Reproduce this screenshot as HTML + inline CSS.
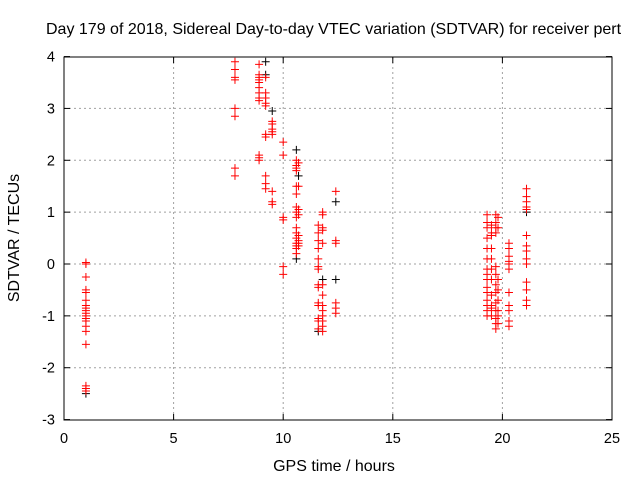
<!DOCTYPE html>
<html><head><meta charset="utf-8"><style>
body{margin:0;background:#fff;}
svg{display:block;font-family:"Liberation Sans",sans-serif;}
</style></head><body>
<svg id="chart" width="640" height="480" xmlns="http://www.w3.org/2000/svg">
<text x="46" y="34" font-size="16">Day 179 of 2018, Sidereal Day-to-day VTEC variation (SDTVAR) for receiver pert</text>
<text x="334" y="471" font-size="16" text-anchor="middle">GPS time / hours</text>
<text transform="translate(19,238) rotate(-90)" font-size="16" text-anchor="middle">SDTVAR / TECUs</text>
<g id="grid"></g><g id="ticks"></g><g id="marks"></g>
<rect x="64" y="57" width="548" height="363" fill="none" stroke="#000" stroke-width="1"/>
</svg>
<script>
const xTicks=[0,5,10,15,20,25];
const yTicks=[-3,-2,-1,0,1,2,3,4];
const redX=[1,7.8,8.9,9.2,9.5,10.0,10.6,10.7,11.6,11.8,12.4,19.3,19.5,19.7,19.8,20.3,21.1];
const redY=[
[0.03,0.0,-0.25,-0.5,-0.55,-0.7,-0.8,-0.85,-0.9,-0.95,-1.0,-1.05,-1.1,-1.2,-1.3,-1.55,-2.35,-2.4,-2.45],
[3.9,3.75,3.6,3.55,3.0,2.85,1.85,1.7],
[3.85,3.65,3.6,3.55,3.5,3.4,3.3,3.2,3.15,2.1,2.05,2.0],
[3.6,3.3,3.2,3.1,3.05,2.5,2.45,1.7,1.55,1.45],
[2.75,2.7,2.6,2.55,2.5,1.4,1.2,1.15],
[2.35,2.1,0.9,0.85,-0.05,-0.2],
[2.0,1.9,1.85,1.8,1.5,1.35,1.1,1.0,0.9,0.7,0.6,0.5,0.4,0.35,0.3,0.2],
[1.95,1.5,1.05,0.95,0.55,0.45,0.4,0.35],
[0.75,0.6,0.45,0.3,0.1,-0.05,-0.1,-0.4,-0.45,-0.75,-0.8,-1.05,-1.1,-1.25],
[1.0,0.95,0.7,0.65,0.4,-0.4,-0.6,-0.8,-0.9,-1.0,-1.1,-1.2,-1.3],
[1.4,0.45,0.4,-0.75,-0.85,-0.95],
[0.95,0.8,0.7,0.5,0.3,0.1,-0.1,-0.2,-0.3,-0.45,-0.55,-0.7,-0.8,-0.9,-1.0],
[0.75,0.6,0.55,0.3,0.1,-0.1,-0.3,-0.6,-0.8,-0.85,-1.0],
[0.95,0.8,0.7,0.6,-0.05,-0.2,-0.4,-0.55,-0.75,-0.9,-1.05,-1.15,-1.25],
[0.9,0.7,-0.3,-0.5,-0.7,-0.9,-1.0,-1.15],
[0.4,0.3,0.15,0.05,0.0,-0.1,-0.55,-0.8,-0.9,-1.1,-1.2],
[1.45,1.3,1.2,1.1,1.05,0.55,0.35,0.25,0.1,0.0,-0.35,-0.5,-0.7,-0.8]];
const blackX=[1,9.2,9.2,9.5,10.6,10.6,10.7,11.6,11.8,12.4,12.4,21.1];
const blackY=[-2.5,3.9,3.65,2.95,2.2,0.1,1.7,-1.3,-0.3,1.2,-0.3,1.0];
const X=v=>64+v*(548/25), Y=v=>264-v*(363/7);
const NS="http://www.w3.org/2000/svg";
function mk(t,a,p){const e=document.createElementNS(NS,t);for(const k in a)e.setAttribute(k,a[k]);p.appendChild(e);return e;}
const grid=document.getElementById('grid'),ticks=document.getElementById('ticks'),marks=document.getElementById('marks');
xTicks.forEach(t=>{const x=X(t);
 if(t>0&&t<25){const g=mk('line',{x1:x,x2:x,y1:57,y2:420,stroke:'#a0a0a0','stroke-dasharray':'2,3'},grid);
 
 }
 mk('line',{x1:x,x2:x,y1:420,y2:414,stroke:'#000'},ticks);mk('line',{x1:x,x2:x,y1:57,y2:63,stroke:'#000'},ticks);
 const l=mk('text',{x:x,y:443,'font-size':14.5,'text-anchor':'middle'},ticks);l.textContent=t;
 
 });
yTicks.forEach(t=>{const y=Y(t);
 if(t>-3&&t<4){const g=mk('line',{x1:64,x2:612,y1:y,y2:y,stroke:'#a0a0a0','stroke-dasharray':'2,3'},grid);
 
 }
 mk('line',{x1:64,x2:70,y1:y,y2:y,stroke:'#000'},ticks);mk('line',{x1:606,x2:612,y1:y,y2:y,stroke:'#000'},ticks);
 const l=mk('text',{x:55,y:y+5,'font-size':14.5,'text-anchor':'end'},ticks);l.textContent=t;
 
 });
function plus(x,y,c,name){const d=`M${x-4},${y}H${x+4}M${x},${y-4}V${y+4}`;
 const p=mk('path',{d:d,stroke:c,'stroke-width':1,fill:'none'},marks);
 
 }
blackX.forEach((h,i)=>plus(X(h),Y(blackY[i]),'#000','black-point'));
redX.forEach((h,i)=>redY[i].forEach(v=>plus(X(h),Y(v),'#f00','red-point')));
</script>
</body></html>
